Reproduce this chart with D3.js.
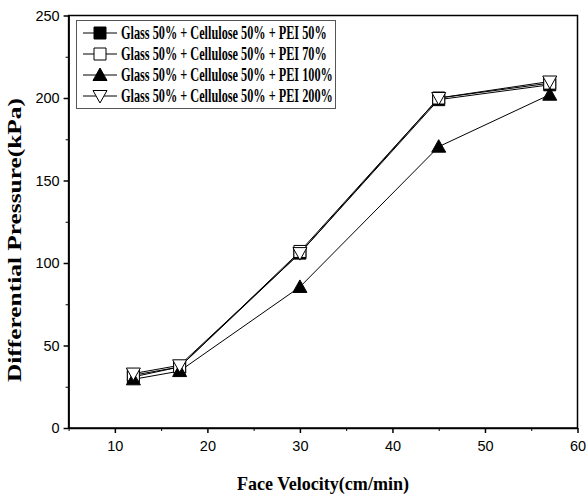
<!DOCTYPE html>
<html>
<head>
<meta charset="utf-8">
<script src="https://cdn.jsdelivr.net/npm/d3@7"></script>
<style>
  body { margin: 0; background: #fff; }
  .tick text { font-family: "Liberation Sans", Arial, sans-serif; font-size: 14.5px; }
</style>
</head>
<body>
<div id="chart"></div>
<script>
// face velocity (cm/min)
var velocity = [12, 17, 30, 45, 57];
var seriesNames = [
	"Glass 50% + Cellulose 50% + PEI 50%",
	"Glass 50% + Cellulose 50% + PEI 70%",
	"Glass 50% + Cellulose 50% + PEI 100%",
	"Glass 50% + Cellulose 50% + PEI 200%"
];
var pei50 = [31, 37, 106, 199, 208];
var pei70 = [32, 37, 107, 200, 209];
var pei100 = [29.5, 34.5, 85.5, 170.5, 202];
var pei200 = [33, 38, 106, 200, 210];
var xTicks = [10, 20, 30, 40, 50, 60];
var yTicks = [0, 50, 100, 150, 200, 250];

var width = 588, height = 496;
var margin = {left: 68.6, right: 10.5, top: 15.5, bottom: 68};
var serif = "'Liberation Serif', 'Times New Roman', serif";

var svg = d3.select("#chart")
	.append("svg")
	.attr("width", width)
	.attr("height", height);

var x = d3.scaleLinear().domain([5, 60]).range([margin.left, width - margin.right]);
var y = d3.scaleLinear().domain([0, 250]).range([height - margin.bottom, margin.top]);

// minor ticks
svg.append("g")
	.attr("transform", "translate(0," + y(0) + ")")
	.call(d3.axisBottom(x).tickValues(d3.range(5, 60, 10)).tickSize(3).tickFormat(""))
	.call(function(g) { g.select(".domain").remove(); });
svg.append("g")
	.attr("transform", "translate(" + x(5) + ",0)")
	.call(d3.axisLeft(y).tickValues(d3.range(25, 250, 50)).tickSize(3).tickFormat(""))
	.call(function(g) { g.select(".domain").remove(); });

var xAxis = svg.append("g")
	.attr("transform", "translate(0," + y(0) + ")")
	.call(d3.axisBottom(x).tickValues(xTicks).tickSize(5).tickPadding(8).tickSizeOuter(0));
var yAxis = svg.append("g")
	.attr("transform", "translate(" + x(5) + ",0)")
	.call(d3.axisLeft(y).tickValues(yTicks).tickSize(5).tickPadding(4).tickSizeOuter(0));
[xAxis, yAxis].forEach(function(g) {
	g.selectAll("line, path").attr("stroke", "#000").attr("stroke-width", 1.5);
	g.selectAll("text").attr("fill", "#000");
});

// frame
svg.append("rect")
	.attr("x", x(5))
	.attr("y", y(250))
	.attr("width", x(60) - x(5))
	.attr("height", y(0) - y(250))
	.attr("fill", "none")
	.attr("stroke", "#000")
	.attr("stroke-width", 1.5);

var series = [
	{name: seriesNames[0], values: pei50, shape: "square", fill: "#000"},
	{name: seriesNames[1], values: pei70, shape: "square", fill: "#fff"},
	{name: seriesNames[2], values: pei100, shape: "triangle", fill: "#000"},
	{name: seriesNames[3], values: pei200, shape: "down", fill: "#fff"}
];

function markerPath(shape) {
	if (shape == "square") return "M-6,-6H6V6H-6Z";
	if (shape == "triangle") return "M0,-7L7,5.5L-7,5.5Z";
	return "M-7,-5.5L7,-5.5L0,7Z";
}

var line = d3.line()
	.x(function(d, i) { return x(velocity[i]); })
	.y(function(d) { return y(d); });

series.forEach(function(s) {
	svg.append("path")
		.attr("d", line(s.values))
		.attr("fill", "none")
		.attr("stroke", "#000")
		.attr("stroke-width", 1);
});
series.forEach(function(s) {
	svg.selectAll(null)
		.data(s.values)
		.enter()
		.append("path")
		.attr("d", markerPath(s.shape))
		.attr("transform", function(d, i) { return "translate(" + x(velocity[i]) + "," + y(d) + ")"; })
		.attr("fill", s.fill)
		.attr("stroke", "#000")
		.attr("stroke-width", 1);
});

// legend
var legend = svg.append("g");
legend.append("rect")
	.attr("x", 76.5)
	.attr("y", 20.5)
	.attr("width", 259)
	.attr("height", 88)
	.attr("fill", "#fff")
	.attr("stroke", "#555")
	.attr("stroke-width", 1);
var rows = legend.selectAll("g.row")
	.data(series)
	.enter()
	.append("g")
	.attr("transform", function(d, i) { return "translate(0," + (33 + i * 21) + ")"; });
rows.append("line")
	.attr("x1", 83).attr("x2", 117)
	.attr("stroke", "#000").attr("stroke-width", 1);
rows.append("path")
	.attr("d", function(d) { return markerPath(d.shape); })
	.attr("transform", "translate(100,0)")
	.attr("fill", function(d) { return d.fill; })
	.attr("stroke", "#000");
var labels = rows.append("text")
	.attr("dy", "0.35em")
	.style("font-family", serif)
	.style("font-weight", "bold")
	.style("font-size", "18px")
	.text(function(d) { return d.name; });
// the original type is narrow: squeeze so the longest row spans ~212px
var sx = 212 / labels.nodes()[3].getComputedTextLength();
labels.attr("transform", "translate(121,0) scale(" + sx + ",1)");

// axis titles
svg.append("text")
	.attr("x", (x(5) + x(60)) / 2)
	.attr("y", 490)
	.attr("text-anchor", "middle")
	.attr("textLength", 172)
	.attr("lengthAdjust", "spacingAndGlyphs")
	.style("font-family", serif)
	.style("font-weight", "bold")
	.style("font-size", "19px")
	.text("Face Velocity(cm/min)");
svg.append("text")
	.attr("transform", "translate(20.5,240) rotate(-90)")
	.attr("text-anchor", "middle")
	.attr("textLength", 284)
	.attr("lengthAdjust", "spacingAndGlyphs")
	.style("font-family", serif)
	.style("font-weight", "bold")
	.style("font-size", "18px")
	.text("Differential Pressure(kPa)");
</script>
</body>
</html>
